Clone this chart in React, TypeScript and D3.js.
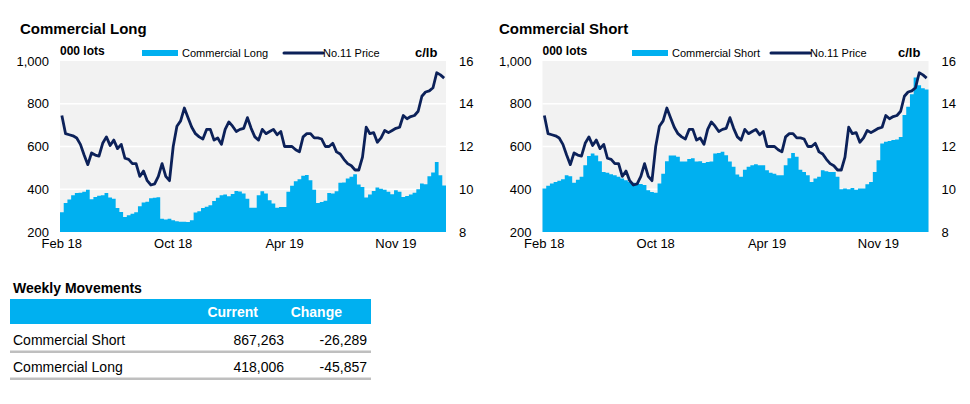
import React from "react";
import * as d3 from "d3";

const xLabels = ["Feb 18", "Oct 18", "Apr 19", "Nov 19"];
const xLabelIdx = [0, 30, 60, 90];
const leftTicks = [200, 400, 600, 800, 1000];
const rightTicks = [8, 10, 12, 14, 16];

const price = [
  13.45, 12.6, 12.55, 12.5, 12.4, 12.1, 11.6, 11.15, 11.7, 11.6,
  11.55, 12.15, 12.45, 12.05, 12.3, 11.9, 12.1, 11.45, 11.4, 11.2,
  11.2, 10.6, 10.85, 10.4, 10.2, 10.25, 10.6, 11.2, 10.6, 10.4,
  12.0, 12.95, 13.2, 13.8, 13.35, 12.9, 12.6, 12.45, 12.35, 12.8,
  12.8, 12.3, 12.4, 12.1, 12.8, 13.15, 12.95, 12.7, 12.8, 12.85,
  13.35, 12.85, 12.45, 12.3, 12.8, 12.6, 12.7, 12.8, 12.55, 12.7,
  12.0, 12.0, 12.0, 11.85, 11.75, 12.45, 12.6, 12.6, 12.4, 12.4,
  12.35, 12.0, 12.0, 12.15, 11.75, 11.65, 11.4, 11.2, 11.1, 10.9,
  10.9, 11.5, 12.9, 12.6, 12.65, 12.2, 12.4, 12.75, 12.65, 12.75,
  12.85, 12.9, 13.45, 13.3, 13.4, 13.45, 13.65, 14.35, 14.55, 14.6,
  14.75, 15.45, 15.35, 15.2,
];

const commercialLong = [
  292, 336, 352, 372, 383, 384, 388, 398, 353, 364,
  370, 372, 383, 361, 356, 312, 294, 270, 278, 285,
  292, 320, 338, 342, 358, 360, 362, 262, 259, 262,
  255, 250, 248, 248, 247, 255, 291, 297, 312, 318,
  325, 345, 360, 372, 375, 367, 378, 392, 390, 380,
  356, 314, 314, 372, 391, 380, 348, 333, 314, 317,
  317, 388, 416, 437, 447, 463, 467, 442, 398, 336,
  340, 346, 383, 380, 391, 430, 431, 450, 458, 470,
  422, 411, 361, 375, 392, 408, 402, 398, 388, 377,
  395, 388, 364, 369, 375, 384, 400, 427, 423, 461,
  478, 528, 466, 418,
];

const commercialShort = [
  403, 416, 427, 434, 440, 447, 465, 461, 430, 445,
  458, 512, 555, 567, 558, 531, 481, 477, 470, 466,
  458, 450, 442, 434, 430, 427, 424, 420, 395, 387,
  384, 427, 473, 531, 558, 558, 552, 530, 530, 541,
  545, 530, 531, 523, 528, 530, 567, 570, 575, 559,
  530, 505, 469, 458, 491, 505, 512, 517, 512, 512,
  489, 477, 473, 466, 466, 512, 545, 570, 552, 491,
  481, 466, 434, 450, 458, 489, 484, 481, 481, 458,
  400, 403, 400, 406, 398, 403, 403, 423, 434, 481,
  536, 614, 622, 626, 630, 633, 644, 747, 786, 844,
  923, 887, 872, 867,
];

const tableRows = ["Commercial Short", "Commercial Long"];
const tableCurrent = ["867,263", "418,006"];
const tableChange = ["-26,289", "-45,857"];

const BAR = "#00B0F0";
const LINE = "#0C2159";
const FONT = "'Liberation Sans', Arial, sans-serif";

type ChartProps = {
  title: string;
  titleX: number;
  left: number;
  bars: number[];
  barLabel: string;
  legRect: number;
  legLine: number;
  cLbX: number;
};

function Chart({ title, titleX, left, bars, barLabel, legRect, legLine, cLbX }: ChartProps) {
  const width = 386;
  const top = 61;
  const bottom = 232;
  const idx = d3.range(bars.length);
  const x = d3.scaleBand<number>().domain(idx).range([left, left + width]).paddingInner(0).paddingOuter(0);
  const y = d3.scaleLinear().domain([200, 1000]).range([bottom, top]);
  const y2 = d3.scaleLinear().domain([8, 16]).range([bottom, top]);
  const bw = x.bandwidth();
  const line = d3
    .line<number>()
    .x((_, i) => (x(i) as number) + bw / 2)
    .y((d) => y2(d))
    .curve(d3.curveLinear);

  // stepped area: each bar contributes its left and right edge
  const stepPts: [number, number][] = [];
  bars.forEach((v, i) => {
    stepPts.push([x(i) as number, v]);
    stepPts.push([(x(i) as number) + bw, v]);
  });
  const area = d3
    .area<[number, number]>()
    .x((d) => d[0])
    .y0(y(200))
    .y1((d) => y(d[1]));

  return (
    <g fontFamily={FONT}>
      <text x={titleX} y={34} fontSize={15} fontWeight="bold" fill="#000">
        {title}
      </text>
      <rect x={left} y={top} width={width} height={bottom - top} fill="#F2F2F2" />
      {leftTicks.slice(1, 4).map((t) => (
        <line key={t} x1={left} x2={left + width} y1={y(t)} y2={y(t)} stroke="#FFFFFF" strokeWidth={1.3} />
      ))}
      <path d={area(stepPts) || ""} fill={BAR} />
      <path d={line(price) || ""} fill="none" stroke={LINE} strokeWidth={2.8} strokeLinejoin="round" />
      {leftTicks.map((t) => (
        <text key={t} x={left - 11} y={y(t)} dy="0.35em" textAnchor="end" fontSize={13} fill="#000">
          {d3.format(",")(t)}
        </text>
      ))}
      {rightTicks.map((t) => (
        <text key={t} x={left + width + 13} y={y2(t)} dy="0.35em" textAnchor="start" fontSize={13} fill="#000">
          {t}
        </text>
      ))}
      {xLabelIdx.map((k, j) => (
        <text key={k} x={(x(k) as number) + bw / 2} y={248} textAnchor="middle" fontSize={13} fill="#000">
          {xLabels[j]}
        </text>
      ))}
      <text x={left} y={55} fontSize={12} fontWeight="bold" fill="#000">
        000 lots
      </text>
      <rect x={legRect} y={50} width={36} height={6} fill={BAR} />
      <text x={legRect + 40} y={57} fontSize={11} fill="#000">
        {barLabel}
      </text>
      <line x1={legLine} x2={legLine + 39} y1={53} y2={53} stroke={LINE} strokeWidth={3} strokeLinecap="round" />
      <text x={legLine + 39} y={57} fontSize={11} fill="#000">
        No.11 Price
      </text>
      <text x={cLbX} y={57} fontSize={13} fontWeight="bold" fill="#000">
        c/lb
      </text>
    </g>
  );
}

export default function App() {
  const tx = 10;
  const tw = 361;
  return (
    <svg
      width={970}
      height={404}
      style={{ position: "absolute", left: 0, top: 0, background: "#fff" }}
    >
      <rect x={0} y={0} width={970} height={404} fill="#fff" />
      <Chart
        title="Commercial Long"
        titleX={20}
        left={60}
        bars={commercialLong}
        barLabel="Commercial Long"
        legRect={142}
        legLine={284}
        cLbX={415}
      />
      <Chart
        title="Commercial Short"
        titleX={499}
        left={542.5}
        bars={commercialShort}
        barLabel="Commercial Short"
        legRect={632}
        legLine={771}
        cLbX={898}
      />
      <g fontFamily={FONT}>
        <text x={13} y={293} fontSize={14} fontWeight="bold" fill="#000">
          Weekly Movements
        </text>
        <rect x={tx} y={299} width={tw} height={25} fill={BAR} />
        <text x={258} y={317} textAnchor="end" fontSize={14} fontWeight="bold" fill="#fff">
          Current
        </text>
        <text x={342} y={317} textAnchor="end" fontSize={14} fontWeight="bold" fill="#fff">
          Change
        </text>
        {tableRows.map((r, i) => (
          <g key={r}>
            <text x={13} y={345 + i * 27} fontSize={14} fill="#000">
              {r}
            </text>
            <text x={284} y={345 + i * 27} textAnchor="end" fontSize={14} fill="#000">
              {tableCurrent[i]}
            </text>
            <text x={367} y={345 + i * 27} textAnchor="end" fontSize={14} fill="#000">
              {tableChange[i]}
            </text>
            <rect x={tx} y={350.5 + i * 27} width={tw} height={2.5} fill="#BFBFBF" />
          </g>
        ))}
      </g>
    </svg>
  );
}
